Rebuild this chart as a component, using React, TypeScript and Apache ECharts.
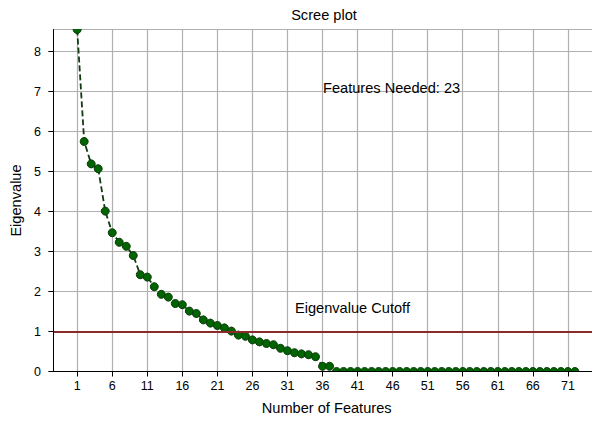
import React, { useEffect, useRef } from "react";
import * as echarts from "echarts";

const featureIndex: number[] = Array.from({ length: 72 }, (_, i) => i + 1);

const eigenvalues: number[] = [
  8.55, 5.75, 5.19, 5.07, 4.01, 3.47, 3.23, 3.13, 2.9, 2.42,
  2.36, 2.12, 1.93, 1.86, 1.7, 1.67, 1.51, 1.45, 1.29, 1.21,
  1.15, 1.09, 1.01, 0.91, 0.88, 0.79, 0.74, 0.7, 0.67, 0.58,
  0.52, 0.47, 0.44, 0.42, 0.37, 0.13, 0.13, 0, 0, 0,
  0, 0, 0, 0, 0, 0, 0, 0, 0, 0,
  0, 0, 0, 0, 0, 0, 0, 0, 0, 0,
  0, 0, 0, 0, 0, 0, 0, 0, 0, 0,
  0, 0,
];

const xTickValues: number[] = [1, 6, 11, 16, 21, 26, 31, 36, 41, 46, 51, 56, 61, 66, 71];
const cutoffValue = 1;
const featuresNeeded = 23;

const titleText = "Scree plot";
const xName = "Number of Features";
const yName = "Eigenvalue";
const cutoffLabel = "Eigenvalue Cutoff";

const FONT = "'Liberation Sans', Arial, Helvetica, sans-serif";

export default function App() {
  const ref = useRef<HTMLDivElement>(null);

  useEffect(() => {
    if (!ref.current) return;
    const chart = echarts.init(ref.current, undefined, { renderer: "svg" });
    const xMin = -2.4;
    const xMax = 74.44;
    const yMin = 0;
    const yMax = 8.55;

    const option: any = {
      animation: false,
      backgroundColor: "#ffffff",
      textStyle: { fontFamily: FONT },
      grid: { left: 49.3, right: 0, top: 29.5, bottom: 49.5, containLabel: false },
      graphic: [
        {
          type: "text",
          x: 324,
          y: 15,
          style: {
            text: titleText,
            fontSize: 14.6,
            fontFamily: FONT,
            fill: "#000",
            textAlign: "center",
            textVerticalAlign: "middle",
          },
        },
      ],
      xAxis: [
        {
          type: "value",
          min: xMin,
          max: xMax,
          axisLine: { show: false },
          axisTick: { show: false, customValues: xTickValues },
          axisLabel: { show: false, customValues: xTickValues },
          splitLine: { show: true, lineStyle: { color: "#b0b0b0", width: 1.2 } },
        },
        {
          type: "value",
          position: "bottom",
          min: xMin,
          max: xMax,
          z: 10,
          name: xName,
          nameLocation: "middle",
          nameGap: 29,
          nameTextStyle: { fontSize: 14.6, color: "#000", fontFamily: FONT, padding: [0, 0, 0, 8] },
          axisLine: { show: true, onZero: false, lineStyle: { color: "#000", width: 1 } },
          axisTick: { show: true, length: 5, customValues: xTickValues, lineStyle: { color: "#000" } },
          axisLabel: {
            show: true,
            customValues: xTickValues,
            margin: 8,
            fontSize: 12.5,
            color: "#000",
            fontFamily: FONT,
          },
          splitLine: { show: false },
        },
      ],
      yAxis: [
        {
          type: "value",
          position: "left",
          min: yMin,
          max: yMax,
          interval: 1,
          axisLine: { show: false },
          axisTick: { show: false },
          axisLabel: { show: false },
          splitLine: { show: true, lineStyle: { color: "#b0b0b0", width: 1.2 } },
        },
        {
          type: "value",
          position: "left",
          min: yMin,
          max: yMax,
          interval: 1,
          z: 10,
          name: yName,
          nameLocation: "middle",
          nameGap: 27,
          nameTextStyle: { fontSize: 14.6, color: "#000", fontFamily: FONT },
          axisLine: { show: true, onZero: false, lineStyle: { color: "#000", width: 1 } },
          axisTick: { show: true, length: 5, lineStyle: { color: "#000" } },
          axisLabel: {
            show: true,
            margin: 12.5,
            fontSize: 12.5,
            color: "#000",
            fontFamily: FONT,
            showMaxLabel: false,
          },
          splitLine: { show: false },
        },
      ],
      series: [
        {
          type: "line",
          xAxisIndex: 0,
          yAxisIndex: 0,
          clip: false,
          data: featureIndex.map((x, i) => [x, eigenvalues[i]]),
          symbol: "circle",
          symbolSize: 8,
          showAllSymbol: true,
          lineStyle: { color: "#123a12", width: 1.8, type: [6, 3] },
          itemStyle: { color: "#006400", borderColor: "#0a3a0a", borderWidth: 1 },
          z: 2,
          markLine: {
            silent: true,
            symbol: ["none", "none"],
            label: { show: false },
            lineStyle: { color: "#8b2a2a", width: 2, type: "solid" },
            data: [{ yAxis: cutoffValue }],
          },
          markPoint: {
            silent: true,
            symbol: "circle",
            symbolSize: 1,
            itemStyle: { color: "rgba(0,0,0,0)" },
            label: {
              show: true,
              position: "right",
              distance: 0,
              color: "#000",
              fontSize: 14.6,
              fontFamily: FONT,
              offset: [0, -4],
            },
            data: [
              {
                coord: [36, 7],
                label: { formatter: "Features Needed: " + featuresNeeded },
              },
              {
                coord: [32, 1.5],
                label: { formatter: cutoffLabel },
              },
            ],
          },
        },
        {
          // white masks that clip the markers at the plot edges (like matplotlib)
          type: "custom",
          xAxisIndex: 0,
          yAxisIndex: 0,
          z: 5,
          silent: true,
          clip: false,
          data: [[0, 0]],
          renderItem: (params: any, api: any) => {
            const cs = params.coordSys;
            return {
              type: "group",
              children: [
                {
                  type: "rect",
                  shape: { x: cs.x + 3, y: cs.y + cs.height + 0.6, width: cs.width, height: 6 },
                  style: { fill: "#ffffff" },
                },
                {
                  type: "rect",
                  shape: { x: cs.x + 3, y: cs.y - 8, width: 60, height: 7.6 },
                  style: { fill: "#ffffff" },
                },
              ],
            };
          },
        },
      ],
    };

    chart.setOption(option);
    return () => chart.dispose();
  }, []);

  return (
    <div
      ref={ref}
      style={{ position: "absolute", left: 0, top: 0, width: 592, height: 421 }}
    />
  );
}
